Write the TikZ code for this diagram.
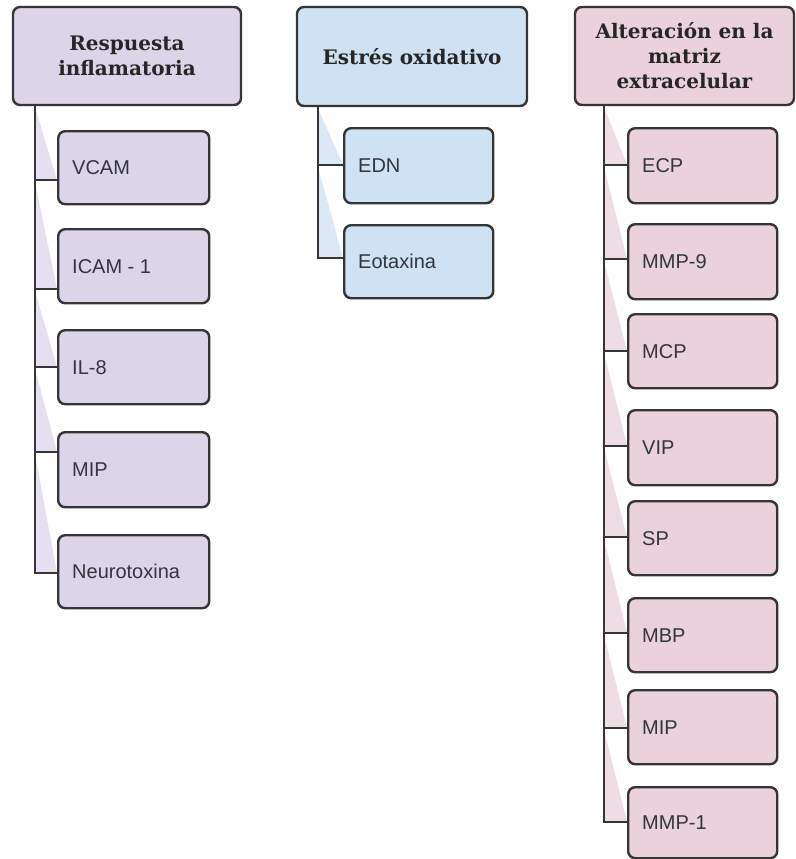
\documentclass[tikz,border=0pt]{standalone}
\usepackage{fontspec}
\setmainfont{Liberation Sans}
\newfontfamily\headfont{DejaVu Serif}
\definecolor{purp}{HTML}{DCD5EA}
\definecolor{blu}{HTML}{CFE2F3}
\definecolor{pnk}{HTML}{EAD1DC}
\definecolor{edge}{HTML}{353535}
\definecolor{txt}{HTML}{33363D}
\begin{document}
\begin{tikzpicture}[x=1pt,y=-1pt,
  box/.style={draw=edge,line width=2.4pt,rounded corners=7pt,inner sep=0pt},
  head/.style={box,font=\headfont\bfseries\fontsize{20}{25}\selectfont,align=center,text=black!85},
  leaf/.style={box},
  lbl/.style={font=\fontsize{20}{24}\selectfont,text=txt,anchor=west,inner sep=0pt},
  conn/.style={draw=edge,line width=2.4pt}]
\useasboundingbox (0,0) rectangle (795,859);
% ---------- column 1 ----------
\node[head,fill=purp,minimum width=228pt,minimum height=98pt] (h1) at (127,56) {Respuesta\\inflamatoria};
\coordinate (t1) at (35,105);
\foreach \nm/\tx/\ya/\yb/\yc/\yp in {a/VCAM/130/203/180/107, b/ICAM - 1/228/302/289/182, c/IL-8/329/403/367/291, d/MIP/431/506/452/369, e/Neurotoxina/534/607/573/454}{
  \fill[purp!75!white] (35,\yp) -- (57,\yc) -- (35,\yc) -- cycle;
}
\foreach \nm/\tx/\ya/\yb/\yc in {a/VCAM/130/203/180, b/ICAM - 1/228/302/289, c/IL-8/329/403/367, d/MIP/431/506/452, e/Neurotoxina/534/607/573}{
  \node[leaf,fill=purp,minimum width=151pt,minimum height={\yb-\ya},anchor=north west] (p\nm) at (57,\ya) {};
  \node[lbl] (pt\nm) at ([xshift=15pt]p\nm.west) {\tx};
  \coordinate (pc\nm) at (57,\yc);
  \draw[conn] (t1) |- (pc\nm);
}
% ---------- column 2 ----------
\node[head,fill=blu,minimum width=230pt,minimum height=99pt] (h2) at (412,56.5) {Estrés oxidativo};
\coordinate (t2) at (318,106);
\foreach \nm/\tx/\ya/\yb/\yc/\yp in {a/EDN/127/202/165/108, b/Eotaxina/224/297/258/167}{
  \fill[blu!75!white] (318,\yp) -- (343,\yc) -- (318,\yc) -- cycle;
}
\foreach \nm/\tx/\ya/\yb/\yc in {a/EDN/127/202/165, b/Eotaxina/224/297/258}{
  \node[leaf,fill=blu,minimum width=149pt,minimum height={\yb-\ya},anchor=north west] (b\nm) at (343,\ya) {};
  \node[lbl] (bt\nm) at ([xshift=15pt]b\nm.west) {\tx};
  \coordinate (bc\nm) at (343,\yc);
  \draw[conn] (t2) |- (bc\nm);
}
% ---------- column 3 ----------
\node[head,fill=pnk,minimum width=219pt,minimum height=98pt] (h3) at (684.5,56) {Alteración en la\\matriz\\extracelular};
\coordinate (t3) at (604,105);
\foreach \nm/\tx/\ya/\yb/\yc/\yp in {a/ECP/127/202/165/107, b/MMP-9/223/298/259/167, c/MCP/313/387/351/261, d/VIP/409/484/446/353, e/SP/500/574/537/448, f/MBP/597/671/633/539, g/MIP/689/763/728/635, h/MMP-1/786/857/822/730}{
  \fill[pnk!75!white] (604,\yp) -- (627,\yc) -- (604,\yc) -- cycle;
}
\foreach \nm/\tx/\ya/\yb/\yc in {a/ECP/127/202/165, b/MMP-9/223/298/259, c/MCP/313/387/351, d/VIP/409/484/446, e/SP/500/574/537, f/MBP/597/671/633, g/MIP/689/763/728, h/MMP-1/786/857/822}{
  \node[leaf,fill=pnk,minimum width=149pt,minimum height={\yb-\ya},anchor=north west] (m\nm) at (627,\ya) {};
  \node[lbl] (mt\nm) at ([xshift=15pt]m\nm.west) {\tx};
  \coordinate (mc\nm) at (627,\yc);
  \draw[conn] (t3) |- (mc\nm);
}
\end{tikzpicture}
\end{document}
